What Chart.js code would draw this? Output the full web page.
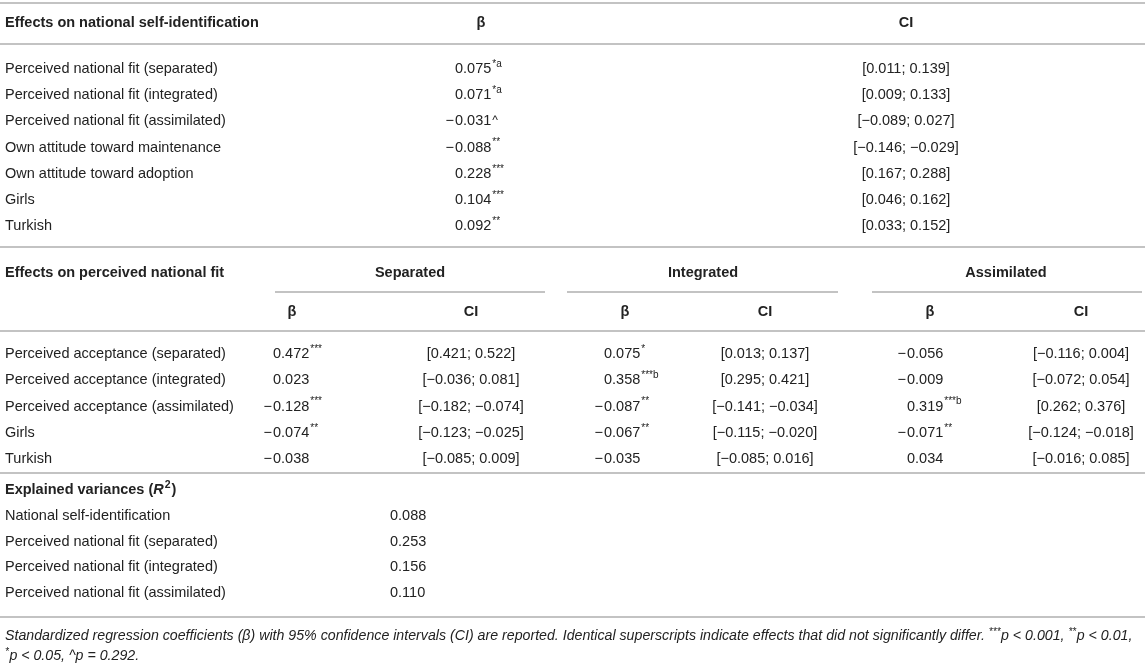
<!DOCTYPE html>
<html>
<head>
<meta charset="utf-8">
<script src="https://cdn.jsdelivr.net/npm/chart.js@4.4.1/dist/chart.umd.min.js"></script>
<style>
  html, body { margin: 0; padding: 0; background: #ffffff; }
  #wrap { width: 1145px; height: 665px; position: relative; }
</style>
</head>
<body>
<div id="wrap"><canvas id="tableChart"></canvas></div>
<script>
// Table values
const part1Title = "Effects on national self-identification";
const part1Rows = [
  "Perceived national fit (separated)",
  "Perceived national fit (integrated)",
  "Perceived national fit (assimilated)",
  "Own attitude toward maintenance",
  "Own attitude toward adoption",
  "Girls",
  "Turkish",
];
const part1Beta = ["0.075", "0.071", "−0.031", "−0.088", "0.228", "0.104", "0.092"];
const part1Sup = ["*a", "*a", "", "**", "***", "***", "**"];
const part1Tail = ["", "", "^", "", "", "", ""];
const part1CI = [
  "[0.011; 0.139]", "[0.009; 0.133]", "[−0.089; 0.027]", "[−0.146; −0.029]",
  "[0.167; 0.288]", "[0.046; 0.162]", "[0.033; 0.152]",
];

const part2Title = "Effects on perceived national fit";
const groups = ["Separated", "Integrated", "Assimilated"];
const part2Rows = [
  "Perceived acceptance (separated)",
  "Perceived acceptance (integrated)",
  "Perceived acceptance (assimilated)",
  "Girls",
  "Turkish",
];
const sepBeta = ["0.472", "0.023", "−0.128", "−0.074", "−0.038"];
const sepSup = ["***", "", "***", "**", ""];
const sepCI = ["[0.421; 0.522]", "[−0.036; 0.081]", "[−0.182; −0.074]", "[−0.123; −0.025]", "[−0.085; 0.009]"];
const intBeta = ["0.075", "0.358", "−0.087", "−0.067", "−0.035"];
const intSup = ["*", "***b", "**", "**", ""];
const intCI = ["[0.013; 0.137]", "[0.295; 0.421]", "[−0.141; −0.034]", "[−0.115; −0.020]", "[−0.085; 0.016]"];
const assBeta = ["−0.056", "−0.009", "0.319", "−0.071", "0.034"];
const assSup = ["", "", "***b", "**", ""];
const assCI = ["[−0.116; 0.004]", "[−0.072; 0.054]", "[0.262; 0.376]", "[−0.124; −0.018]", "[−0.016; 0.085]"];

const r2Rows = [
  "National self-identification",
  "Perceived national fit (separated)",
  "Perceived national fit (integrated)",
  "Perceived national fit (assimilated)",
];
const r2Values = ["0.088", "0.253", "0.156", "0.110"];

const footLine1 = [
  ["Standardized regression coefficients (β) with 95% confidence intervals (CI) are reported. Identical superscripts indicate effects that did not significantly differ. ", false],
  ["***", true], ["p < 0.001, ", false], ["**", true], ["p < 0.01,", false],
];
const footLine2 = [["*", true], ["p < 0.05, ^p = 0.292.", false]];

// Layout
const FONT = '"Liberation Sans", Arial, Helvetica, sans-serif';
const SIZE = 14.5;
const textColor = "#222222";
const ruleColor = "#c3c3c3";

const tablePlugin = {
  id: "tablePlugin",
  afterDraw(chart) {
    const ctx = chart.ctx;
    const X = (v) => chart.scales.x.getPixelForValue(v);
    const Y = (v) => chart.scales.y.getPixelForValue(v);

    ctx.save();
    ctx.fillStyle = textColor;
    ctx.textBaseline = "middle";

    const font = (w, s, it) => `${it ? "italic " : ""}${w} ${s}px ${FONT}`;

    function rule(x1, x2, y) {
      ctx.strokeStyle = ruleColor;
      ctx.lineWidth = 2;
      ctx.beginPath();
      ctx.moveTo(X(x1), Y(y));
      ctx.lineTo(X(x2), Y(y));
      ctx.stroke();
    }

    function text(str, x, y, align, weight) {
      ctx.font = font(weight || "normal", SIZE);
      ctx.textAlign = align || "left";
      ctx.fillText(str, X(x), Y(y));
    }

    // number aligned on its first digit, minus sign hangs to the left
    function num(str, x, y, sup, tail) {
      ctx.font = font("normal", SIZE);
      ctx.textAlign = "left";
      let s = str;
      if (s.startsWith("−")) {
        const mw = ctx.measureText("− ").width - ctx.measureText(" ").width;
        ctx.fillText("−", X(x) - mw - 1, Y(y));
        s = s.slice(1);
      }
      ctx.fillText(s, X(x), Y(y));
      let end = X(x) + ctx.measureText(s).width;
      if (sup) {
        ctx.font = font("normal", 10);
        ctx.fillText(sup, end + 1, Y(y) - 5);
      }
      if (tail) {
        ctx.font = font("normal", 12);
        ctx.fillText(tail, end + 1, Y(y) - 1);
      }
    }

    // ---- part 1 ----
    rule(0, 1145, 3);
    text(part1Title, 5, 23, "left", "bold");
    text("β", 481, 23, "center", "bold");
    text("CI", 906, 23, "center", "bold");
    rule(0, 1145, 44);
    part1Rows.forEach((r, i) => {
      const y = 69 + i * 26.2;
      text(r, 5, y);
      num(part1Beta[i], 455, y, part1Sup[i], part1Tail[i]);
      text(part1CI[i], 906, y, "center");
    });
    rule(0, 1145, 247);

    // ---- part 2 ----
    text(part2Title, 5, 273, "left", "bold");
    const grpCenter = [410, 703, 1006];
    const grpSpan = [[275, 545], [567, 838], [872, 1142]];
    const betaHead = [292, 625, 930];
    const betaX = [273, 604, 907];
    const ciX = [471, 765, 1081];
    const betas = [sepBeta, intBeta, assBeta];
    const sups = [sepSup, intSup, assSup];
    const cis = [sepCI, intCI, assCI];
    groups.forEach((g, k) => {
      text(g, grpCenter[k], 273, "center", "bold");
      rule(grpSpan[k][0], grpSpan[k][1], 292);
      text("β", betaHead[k], 312, "center", "bold");
      text("CI", ciX[k], 312, "center", "bold");
    });
    rule(0, 1145, 331);
    part2Rows.forEach((r, i) => {
      const y = 354 + i * 26.3;
      text(r, 5, y);
      groups.forEach((g, k) => {
        num(betas[k][i], betaX[k], y, sups[k][i], "");
        text(cis[k][i], ciX[k], y, "center");
      });
    });
    rule(0, 1145, 473);

    // ---- explained variances ----
    let x0 = X(5);
    const yH = Y(490);
    ctx.textAlign = "left";
    ctx.font = font("bold", SIZE);
    ctx.fillText("Explained variances (", x0, yH);
    x0 += ctx.measureText("Explained variances (").width;
    ctx.font = font("bold", SIZE, true);
    ctx.fillText("R", x0, yH);
    x0 += ctx.measureText("R").width + 1;
    ctx.font = font("bold", 10.5);
    ctx.fillText("2", x0, yH - 5);
    x0 += ctx.measureText("2").width + 1;
    ctx.font = font("bold", SIZE);
    ctx.fillText(")", x0, yH);

    r2Rows.forEach((r, i) => {
      const y = 516 + i * 25.5;
      text(r, 5, y);
      num(r2Values[i], 390, y, "", "");
    });
    rule(0, 1145, 617);

    // ---- footnote ----
    function rich(parts, y) {
      let x = X(5);
      ctx.textAlign = "left";
      parts.forEach(([s, sup]) => {
        if (sup) {
          ctx.font = font("normal", 10, true);
          ctx.fillText(s, x, Y(y) - 4);
        } else {
          ctx.font = font("normal", 14.2, true);
          ctx.fillText(s, x, Y(y));
        }
        x += ctx.measureText(s).width + (sup ? 0.5 : 0);
      });
    }
    rich(footLine1, 636);
    rich(footLine2, 656);

    ctx.restore();
  },
};

new Chart(document.getElementById("tableChart"), {
  type: "scatter",
  data: { datasets: [] },
  options: {
    responsive: true,
    maintainAspectRatio: false,
    animation: false,
    layout: { padding: 0 },
    plugins: { legend: { display: false }, tooltip: { enabled: false } },
    scales: {
      x: { type: "linear", min: 0, max: 1145, display: false },
      y: { type: "linear", min: 0, max: 665, reverse: true, display: false },
    },
  },
  plugins: [tablePlugin],
});
</script>
</body>
</html>
